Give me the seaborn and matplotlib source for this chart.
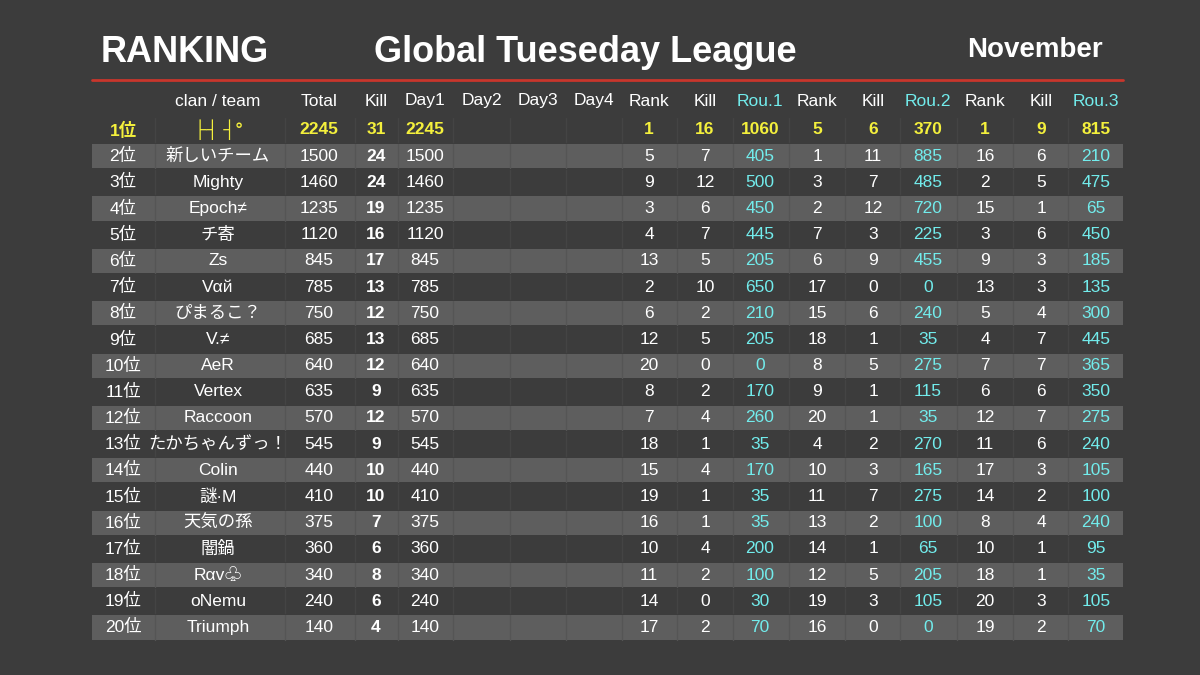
import matplotlib
matplotlib.use("Agg")
import matplotlib.pyplot as plt
import seaborn as sns

sns.set_style("dark")
plt.rcParams['font.family'] = ['Liberation Sans', 'Noto Sans CJK JP', 'DejaVu Sans']

teams = ["├┤ ┤°", "新しいチーム", "Mighty", "Epoch≠", "チ寄", "Zs", "Vαй", "ぴまるこ？", "V.≠", "AeR",
         "Vertex", "Raccoon", "たかちゃんずっ！", "Colin", "謎·M", "天気の孫", "闇鍋", "Rαv♧", "oNemu", "Triumph"]
total = [2245, 1500, 1460, 1235, 1120, 845, 785, 750, 685, 640, 635, 570, 545, 440, 410, 375, 360, 340, 240, 140]
kill = [31, 24, 24, 19, 16, 17, 13, 12, 13, 12, 9, 12, 9, 10, 10, 7, 6, 8, 6, 4]
day1 = list(total)
r1_rank = [1, 5, 9, 3, 4, 13, 2, 6, 12, 20, 8, 7, 18, 15, 19, 16, 10, 11, 14, 17]
r1_kill = [16, 7, 12, 6, 7, 5, 10, 2, 5, 0, 2, 4, 1, 4, 1, 1, 4, 2, 0, 2]
r1_pts = [1060, 405, 500, 450, 445, 205, 650, 210, 205, 0, 170, 260, 35, 170, 35, 35, 200, 100, 30, 70]
r2_rank = [5, 1, 3, 2, 7, 6, 17, 15, 18, 8, 9, 20, 4, 10, 11, 13, 14, 12, 19, 16]
r2_kill = [6, 11, 7, 12, 3, 9, 0, 6, 1, 5, 1, 1, 2, 3, 7, 2, 1, 5, 3, 0]
r2_pts = [370, 885, 485, 720, 225, 455, 0, 240, 35, 275, 115, 35, 270, 165, 275, 100, 65, 205, 105, 0]
r3_rank = [1, 16, 2, 15, 3, 9, 13, 5, 4, 7, 6, 12, 11, 17, 14, 8, 10, 18, 20, 19]
r3_kill = [9, 6, 5, 1, 6, 3, 3, 4, 7, 7, 6, 7, 6, 3, 2, 4, 1, 1, 3, 2]
r3_pts = [815, 210, 475, 65, 450, 185, 135, 300, 445, 365, 350, 275, 240, 105, 100, 240, 95, 35, 105, 70]
headers = ["", "clan / team", "Total", "Kill", "Day1", "Day2", "Day3", "Day4",
           "Rank", "Kill", "Rou.1", "Rank", "Kill", "Rou.2", "Rank", "Kill", "Rou.3"]

BG = "#3c3c3c"
BAND = "#5e5e5e"
YEL = "#f4f03c"
CYAN = "#72ecec"

fig = plt.figure(figsize=(12, 6.75), dpi=100, facecolor=BG)
ax = fig.add_axes([0, 0, 1, 1])
ax.set_facecolor(BG)
ax.set_xlim(0, 1200)
ax.set_ylim(675, 0)
ax.axis("off")

xc = [123, 218, 319, 376, 425, 482, 538, 594, 649, 705, 760, 817, 873, 928, 985, 1041, 1096]
xb = [92, 155, 285, 355, 398, 453, 510, 566, 622, 677, 733, 789, 845, 900, 957, 1013, 1068, 1123]
y0, dy = 130, 26.18

ax.text(185, 53, "RANKING", color="white", fontsize=26, fontweight="bold", ha="center", va="center")
ax.text(585, 53, "Global Tueseday League", color="white", fontsize=26, fontweight="bold", ha="center", va="center")
ax.text(1035, 50, "November", color="white", fontsize=20, fontweight="bold", ha="center", va="center")
ax.plot([92, 1123], [80, 80], color="#c8362c", lw=2)

for j, h in enumerate(headers):
    c = CYAN if h.startswith("Rou") else "white"
    ax.text(xc[j], 101, h, color=c, fontsize=12.5, ha="center", va="center")

for i in range(20):
    y = y0 + i * dy
    if i % 2 == 1:
        ax.axhspan(y - dy / 2 + 1, y + dy / 2 - 1, xmin=92 / 1200, xmax=1123 / 1200, color=BAND, lw=0)
        lc = "#555555"
    else:
        lc = "#444444"
    for xx in xb[1:-1]:
        ax.plot([xx, xx], [y - dy / 2 + 1, y + dy / 2 - 1], color=lc, lw=1)
    row = [f"{i+1}位", teams[i], total[i], kill[i], day1[i], "", "", "",
           r1_rank[i], r1_kill[i], r1_pts[i], r2_rank[i], r2_kill[i], r2_pts[i],
           r3_rank[i], r3_kill[i], r3_pts[i]]
    for j, v in enumerate(row):
        if i == 0:
            col, w = YEL, "bold"
        else:
            col = CYAN if j in (10, 13, 16) else "white"
            w = "bold" if j == 3 else "normal"
        ax.text(xc[j], y, str(v), color=col, fontsize=12.5, fontweight=w, ha="center", va="center")

fig.savefig("out.png", dpi=100, facecolor=BG)
